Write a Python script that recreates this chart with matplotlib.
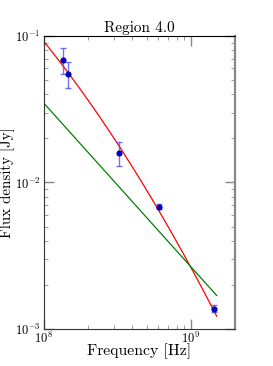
import numpy as np
import matplotlib
matplotlib.use("Agg")
import matplotlib.pyplot as plt

plt.rcParams['font.family'] = 'serif'
plt.rcParams['font.serif'] = ['cmr10']
plt.rcParams['mathtext.fontset'] = 'cm'
plt.rcParams['axes.unicode_minus'] = False
plt.rcParams['axes.formatter.use_mathtext'] = True

# measured flux densities
freq_hz = [1.35e8, 1.45e8, 3.24e8, 6.1e8, 1.43e9]
flux_jy = [0.0686, 0.0553, 0.0160, 0.00684, 0.00138]
flux_err = [0.0135, 0.0112, 0.0030, 0.00030, 0.00008]

# model curves (log10 S = a + b*u + c*u^2, u = log10(nu) - 8)
curved_a, curved_b, curved_c = -1.039, -1.24, -0.30
power_a, power_b = -1.46, -1.115
model_range = [1.0e8, 1.5e9]

fig = plt.figure(figsize=(2.73, 3.66), dpi=100)
ax = fig.add_axes([0.161, 0.101, 0.700, 0.801])

nu = np.logspace(np.log10(model_range[0]), np.log10(model_range[1]), 200)
u = np.log10(nu) - 8
ax.plot(nu, 10 ** (curved_a + curved_b * u + curved_c * u ** 2), color='red', lw=0.9)
ax.plot(nu, 10 ** (power_a + power_b * u), color='green', lw=0.9)

ax.errorbar(freq_hz, flux_jy, yerr=flux_err, fmt='none', ecolor='#4d4dff',
            elinewidth=1.0, capsize=2.5, capthick=1.0, alpha=0.8)
ax.plot(freq_hz, flux_jy, 'o', color='#0000cc', mec='#000088', ms=3.8, mew=0.6)

ax.set_xscale('log')
ax.set_yscale('log')
ax.set_xlim(1e8, 2e9)
ax.set_ylim(1e-3, 1e-1)

ax.tick_params(which='both', direction='in', top=True, right=True,
               labelsize=9, color='#888888')
ax.tick_params(which='major', length=7, width=1.0)
ax.tick_params(which='minor', length=3, width=0.6)
ax.tick_params(axis='x', which='major', pad=1.5)
ax.tick_params(axis='y', which='major', pad=2.5)

ax.spines['top'].set_color('black')
ax.spines['left'].set_color('#333333')
ax.spines['bottom'].set_color('#333333')
ax.spines['right'].set_color('#888888')
ax.spines['right'].set_linewidth(1.6)

ax.set_title('Region 4.0', fontsize=11, pad=3)
ax.set_xlabel('Frequency [Hz]', fontsize=11.3)
ax.set_ylabel('Flux density [Jy]', fontsize=10.8)
ax.xaxis.set_label_coords(0.5, -0.05)
ax.yaxis.set_label_coords(-0.15, 0.5)

fig.savefig('out.png', dpi=100)
